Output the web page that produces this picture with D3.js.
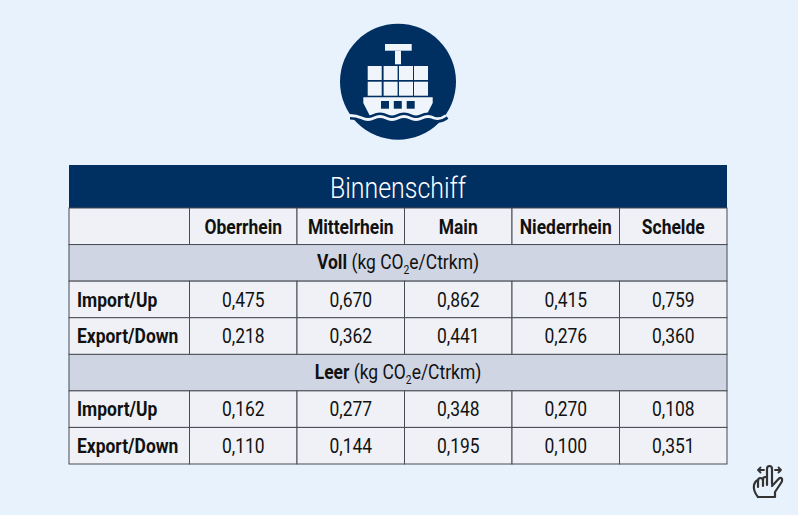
<!DOCTYPE html>
<html>
<head>
<meta charset="utf-8">
<script src="https://cdn.jsdelivr.net/npm/d3@7"></script>
<style>
  html, body { margin: 0; padding: 0; background: #e8f2fd; }
  svg { display: block; font-family: Roboto, sans-serif; }
</style>
</head>
<body>
<svg id="chart" width="798" height="515"></svg>
<script>
const title = 'Binnenschiff';
const rivers = ['Oberrhein', 'Mittelrhein', 'Main', 'Niederrhein', 'Schelde'];
const directions = ['Import/Up', 'Export/Down'];
const unit = '(kg CO';
const unitEnd = 'e/Ctrkm)';
const vollLabel = 'Voll';
const leerLabel = 'Leer';
const vollImport = ['0,475', '0,670', '0,862', '0,415', '0,759'];
const vollExport = ['0,218', '0,362', '0,441', '0,276', '0,360'];
const leerImport = ['0,162', '0,277', '0,348', '0,270', '0,108'];
const leerExport = ['0,110', '0,144', '0,195', '0,100', '0,351'];

const NAVY = '#002f62', LINE = '#484b52', CELL = '#eff1f6', BAND = '#d0d5e3', INK = '#111', PALE = '#f0f5fb';
const squeeze = 0.86; // no Roboto Condensed here, so narrow Roboto by hand

const svg = d3.select('#chart');

const left = 69, firstCol = 189.5, right = 727;
const x = d3.scaleBand().domain(rivers).range([firstCol, right]);
const y = d3.scaleBand()
  .domain(['head', 'voll', 'vollImport', 'vollExport', 'leer', 'leerImport', 'leerExport'])
  .range([208, 464]);

function label(g, cx, cy, txt, size, weight, fill, anchor) {
  return g.append('text')
    .attr('transform', `translate(${cx},${cy}) scale(${squeeze},1)`)
    .attr('text-anchor', anchor || 'middle')
    .attr('font-size', size)
    .attr('font-weight', weight)
    .attr('fill', fill || INK)
    .text(txt);
}

// --- table ---
const table = svg.append('g');

table.append('rect').attr('x', left).attr('y', 165).attr('width', right - left).attr('height', 43).attr('fill', NAVY);
label(table, (left + right) / 2, 197.5, title, 29, 300, '#fff');

function cell(x0, y0, w, h, fill) {
  table.append('rect')
    .attr('x', x0).attr('y', y0).attr('width', w).attr('height', h)
    .attr('fill', fill).attr('stroke', LINE).attr('stroke-width', 1);
}

// header row
cell(left, y('head'), firstCol - left, y.bandwidth(), CELL);
rivers.forEach(r => {
  cell(x(r), y('head'), x.bandwidth(), y.bandwidth(), CELL);
  label(table, x(r) + x.bandwidth() / 2, y('head') + 25.5, r, 20.3, 700);
});

// section rows, "Voll (kg CO2e/Ctrkm)"
function section(key, name) {
  cell(left, y(key), right - left, y.bandwidth(), BAND);
  const t = label(table, (left + right) / 2, y(key) + 24.5, '', 20.3, 400);
  t.append('tspan').attr('font-weight', 700).text(name);
  t.append('tspan').text(' ' + unit);
  t.append('tspan').attr('font-size', 12).attr('dy', 5).text('2');
  t.append('tspan').attr('dy', -5).text(unitEnd);
}
section('voll', vollLabel);
section('leer', leerLabel);

// value rows
function valueRow(key, dir, values) {
  cell(left, y(key), firstCol - left, y.bandwidth(), CELL);
  label(table, left + 8, y(key) + 25.5, dir, 20.3, 700, INK, 'start');
  table.append('g').selectAll('g')
    .data(values)
    .join('g')
    .each(function (d, i) {
      const r = rivers[i];
      cell(x(r), y(key), x.bandwidth(), y.bandwidth(), CELL);
      label(table, x(r) + x.bandwidth() / 2, y(key) + 25.5, d, 20.3, 400);
    });
}
valueRow('vollImport', directions[0], vollImport);
valueRow('vollExport', directions[1], vollExport);
valueRow('leerImport', directions[0], leerImport);
valueRow('leerExport', directions[1], leerExport);

// --- ship icon ---
const ship = svg.append('g');
ship.append('circle').attr('cx', 398).attr('cy', 81.7).attr('r', 58).attr('fill', NAVY);
ship.append('rect').attr('x', 385).attr('y', 44).attr('width', 26.7).attr('height', 6.7).attr('fill', PALE);
ship.append('rect').attr('x', 395).attr('y', 50.7).attr('width', 6).attr('height', 13.6).attr('fill', PALE);
const boxX = [367.7, 383.6, 399, 414];
const boxY = [66, 81.7];
boxY.forEach(by => boxX.forEach(bx => {
  ship.append('rect').attr('x', bx).attr('y', by).attr('width', 14).attr('height', 14).attr('fill', PALE);
}));
ship.append('path').attr('d', 'M363.3 97.3H432.7V103L425 118H371L363.3 103Z').attr('fill', PALE);
[381, 393.8, 406.7].forEach(wx => {
  ship.append('rect').attr('x', wx).attr('y', 101).attr('width', 8).attr('height', 7.7).attr('fill', NAVY);
});
const wave = 'M350 115.5Q356 115.5 362 118Q368 121 374 118Q380 115 386 118Q392 121 398 118Q404 115 410 118Q416 121 422 118Q428 115 434 118Q440 120 446 115.5';
ship.append('path').attr('d', wave).attr('fill', 'none').attr('stroke', NAVY).attr('stroke-width', 8);
ship.append('path').attr('d', wave).attr('fill', 'none').attr('stroke', PALE).attr('stroke-width', 2.8);

// --- swipe hint, bottom right ---
const hand = svg.append('g').attr('fill', 'none').attr('stroke', '#333').attr('stroke-width', 2.2)
  .attr('stroke-linecap', 'round').attr('stroke-linejoin', 'round');
hand.append('path').attr('d', 'M758 497Q753 491 754 485Q755 481 758 480V487');
hand.append('path').attr('d', 'M758 481Q758 478 760.5 478Q763 478 763 481V486');
hand.append('path').attr('d', 'M763 480Q763 477 765 477H767');
hand.append('path').attr('d', 'M767 485V469Q767 466 769.5 466Q772 466 772 469V484');
hand.append('path').attr('d', 'M772 486L779 478.5Q781 477 782 479Q782.5 481 781 483L775 492V497H758');
hand.append('path').attr('stroke-width', 1.8).attr('d', 'M764 470H758M760.5 467.5L758 470L760.5 472.5');
hand.append('path').attr('stroke-width', 1.8).attr('d', 'M775 470H781M778.5 467.5L781 470L778.5 472.5');
</script>
</body>
</html>
